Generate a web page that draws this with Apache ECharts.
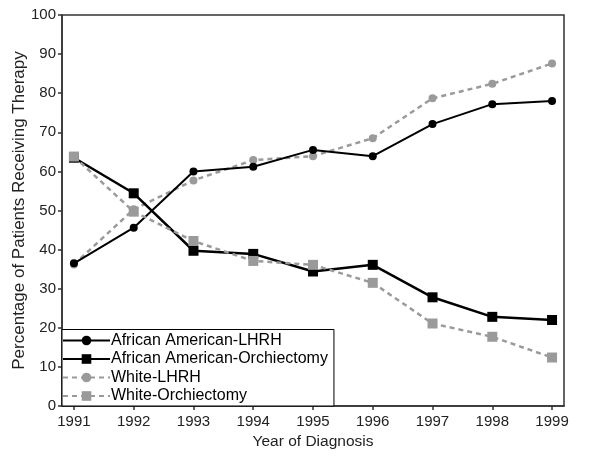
<!DOCTYPE html>
<html><head><meta charset="utf-8">
<script src="https://cdn.jsdelivr.net/npm/echarts@6/dist/echarts.min.js"></script>
<style>html,body{margin:0;padding:0;background:#fff}#c{width:600px;height:463px}</style>
</head><body><div id="c"></div>
<script>
const years = [1991,1992,1993,1994,1995,1996,1997,1998,1999];
const aaLHRH = [36.5,45.6,60.0,61.2,65.5,63.9,72.1,77.2,78.0];
const aaOrch = [63.5,54.4,39.7,38.9,34.4,36.1,27.8,22.8,22.0];
const whLHRH = [36.2,50.3,57.7,62.9,63.9,68.5,78.7,82.4,87.6];
const whOrch = [63.8,49.7,42.2,37.1,36.1,31.5,21.1,17.7,12.4];
const yTicks = [0,10,20,30,40,50,60,70,80,90,100];
const names = ['African American-LHRH','African American-Orchiectomy','White-LHRH','White-Orchiectomy'];

const font = 'Liberation Sans, Arial, sans-serif';
const pairs = a => years.map((y,i)=>[y,a[i]]);
const gray = '#9a9a9a';

const chart = echarts.init(document.getElementById('c'), null, {renderer:'canvas'});
chart.setOption({
  animation:false,
  textStyle:{fontFamily:font},
  grid:{left:62,right:36,top:15,bottom:57,containLabel:false,outerBoundsMode:'none',
        show:true,borderColor:'#333',borderWidth:1.5,backgroundColor:'transparent'},
  xAxis:{
    type:'value',min:1990.8,max:1999.2,
    name:'Year of Diagnosis',nameLocation:'middle',nameGap:28,nameMoveOverlap:false,
    nameTextStyle:{fontSize:15.5,color:'#222',fontFamily:font},
    axisLine:{show:true,lineStyle:{color:'#333',width:1.5}},
    axisTick:{show:true,length:4,customValues:years,lineStyle:{color:'#333',width:1.5}},
    axisLabel:{customValues:years,fontSize:15,color:'#222',margin:8,fontFamily:font,formatter:v=>String(v)},
    splitLine:{show:false}
  },
  yAxis:{
    type:'value',min:0,max:100,interval:10,
    name:'Percentage of Patients Receiving Therapy',nameLocation:'middle',nameGap:34,nameMoveOverlap:false,
    nameTextStyle:{fontSize:17,color:'#222',fontFamily:font},
    axisLine:{show:true,lineStyle:{color:'#333',width:1.5}},
    axisTick:{show:true,length:4,lineStyle:{color:'#333',width:1.5}},
    axisLabel:{fontSize:15,color:'#222',margin:6,fontFamily:font},
    splitLine:{show:false}
  },
  legend:{
    orient:'vertical',left:62,bottom:57,
    backgroundColor:'#fff',borderColor:'#000',borderWidth:1,
    padding:[3,6,2,0],itemGap:2.5,itemWidth:47,itemHeight:12,
    textStyle:{fontSize:16,lineHeight:16,color:'#000',fontFamily:font,padding:[0,0,0,-4]},
    data:names
  },
  series:[
    {name:names[0],type:'line',data:pairs(aaLHRH),symbol:'circle',symbolSize:8,
     lineStyle:{color:'#000',width:2},itemStyle:{color:'#000'},z:4},
    {name:names[1],type:'line',data:pairs(aaOrch),symbol:'rect',symbolSize:10,
     lineStyle:{color:'#000',width:2.5},itemStyle:{color:'#000'},z:3},
    {name:names[2],type:'line',data:pairs(whLHRH),symbol:'circle',symbolSize:8,
     lineStyle:{color:gray,width:2.5,type:[5,4]},itemStyle:{color:gray},z:2},
    {name:names[3],type:'line',data:pairs(whOrch),symbol:'rect',symbolSize:10,
     lineStyle:{color:gray,width:2.5,type:[5,4]},itemStyle:{color:gray},z:5}
  ]
});
</script></body></html>
